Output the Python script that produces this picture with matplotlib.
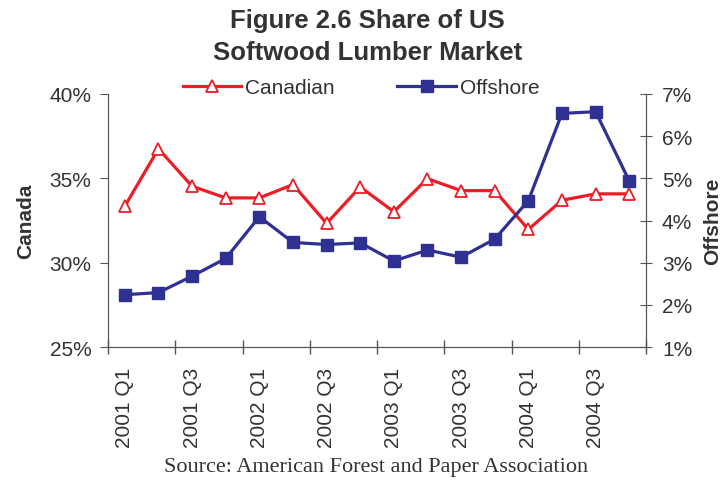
import matplotlib.pyplot as plt
import numpy as np

# quarterly share of US softwood lumber market
quarters = ['2001 Q1', '2001 Q2', '2001 Q3', '2001 Q4',
            '2002 Q1', '2002 Q2', '2002 Q3', '2002 Q4',
            '2003 Q1', '2003 Q2', '2003 Q3', '2003 Q4',
            '2004 Q1', '2004 Q2', '2004 Q3', '2004 Q4']
canadian = [33.35, 36.75, 34.53, 33.84, 33.84, 34.63, 32.33, 34.49,
            33.02, 34.98, 34.27, 34.27, 31.97, 33.70, 34.08, 34.08]
offshore = [2.24, 2.29, 2.68, 3.10, 4.09, 3.48, 3.43, 3.47,
            3.04, 3.30, 3.13, 3.56, 4.47, 6.54, 6.58, 4.94]

red = '#ee1c25'
blue = '#2e3192'
grey = '#555555'
txt = '#333333'

plt.rcParams['font.family'] = ['Liberation Sans', 'DejaVu Sans']

fig = plt.figure(figsize=(7.28, 4.81), dpi=100)
ax1 = fig.add_axes([0.1484, 0.2765, 0.739, 0.526])
ax2 = ax1.twinx()

x = np.arange(len(quarters))
l1, = ax1.plot(x, canadian, color=red, lw=2.3, marker='^', ms=9,
               mfc='white', mec=red, mew=1.3, label='Canadian', zorder=3)
l2, = ax2.plot(x, offshore, color=blue, lw=2.3, marker='s', ms=8,
               mfc=blue, mec=blue, label='Offshore', zorder=3)

ax1.set_xlim(-0.5, len(quarters) - 0.5)
ax1.set_ylim(25, 40)
ax2.set_ylim(1, 7)
ax1.set_yticks([25, 30, 35, 40])
ax1.set_yticklabels([f'{v}%' for v in [25, 30, 35, 40]])
ax2.set_yticks(range(1, 8))
ax2.set_yticklabels([f'{v}%' for v in range(1, 8)])

# tick marks between categories, labels under every other quarter
ax1.set_xticks(np.arange(-0.5, len(quarters), 2))
ax1.set_xticklabels([])
ax1.set_xticks(x[::2], minor=True)
ax1.set_xticklabels(quarters[::2], minor=True, rotation=90)
ax1.tick_params(axis='x', which='major', direction='inout', length=10,
                color=grey, width=1)
ax1.tick_params(axis='x', which='minor', length=0, pad=14,
                labelsize=15, labelcolor=txt)
ax1.tick_params(axis='y', direction='out', length=6, color=grey, pad=6,
                labelsize=15, labelcolor=txt)
ax2.tick_params(axis='y', direction='inout', length=9, color=grey, pad=7,
                labelsize=15, labelcolor=txt)

for ax in (ax1, ax2):
    ax.spines['top'].set_visible(False)
    for s in ('left', 'right', 'bottom'):
        ax.spines[s].set_color(grey)

ax1.set_ylabel('Canada', fontsize=15, fontweight='bold', color=txt, labelpad=10)
ax2.set_ylabel('Offshore', fontsize=15, fontweight='bold', color=txt, labelpad=8)

fig.text(0.505, 0.956, 'Figure 2.6 Share of US', ha='center', va='center',
         fontsize=18.5, fontweight='bold', color=txt)
fig.text(0.505, 0.89, 'Softwood Lumber Market', ha='center', va='center',
         fontsize=18.5, fontweight='bold', color=txt)

fig.legend(handles=[l1, l2], loc='center', bbox_to_anchor=(0.496, 0.815),
           ncol=2, frameon=False, fontsize=15, handlelength=2.8,
           handletextpad=0.2, columnspacing=3.0, labelcolor=txt)

fig.text(0.516, 0.029, 'Source: American Forest and Paper Association',
         ha='center', va='center', fontsize=16, color=txt,
         family=['Liberation Serif', 'DejaVu Serif'])

fig.savefig('out.png', dpi=100)
